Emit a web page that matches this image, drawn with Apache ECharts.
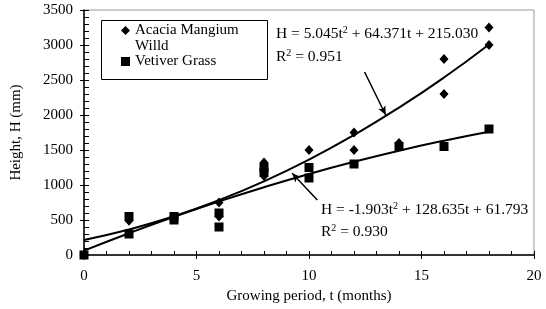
<!DOCTYPE html>
<html>
<head>
<meta charset="utf-8">
<script src="https://cdn.jsdelivr.net/npm/echarts@6/dist/echarts.min.js"></script>
<style>
  html, body { margin: 0; padding: 0; background: #fff; }
  #chart { width: 546px; height: 309px; }
</style>
</head>
<body>
<div id="chart"></div>
<script>
// measured points [t (months), H (mm)]
const acaciaPoints = [[0, 0], [2, 490], [4, 530], [6, 750], [6, 550], [8, 1320], [8, 1130],
  [10, 1500], [12, 1750], [12, 1500], [14, 1600], [16, 2800], [16, 2300], [18, 3250], [18, 3000]];
const vetiverPoints = [[0, 0], [2, 550], [2, 300], [4, 550], [4, 500], [6, 600], [6, 400],
  [8, 1250], [8, 1180], [10, 1250], [10, 1100], [12, 1300], [14, 1550], [16, 1550], [18, 1800]];

// trend curves
const trendT = [0, 2, 4, 6, 8, 10, 12, 14, 16, 18];
const acaciaTrend = [215, 364, 553, 783, 1053, 1363, 1714, 2105, 2536, 3008];
const vetiverTrend = [62, 311, 546, 765, 969, 1158, 1331, 1490, 1633, 1761];

// arrows [from, to] in data coords
const arrowLines = [
  [[12.47, 2614], [13.41, 2000]],
  [[10.37, 786], [9.25, 1167]]
];

const serif = "Liberation Serif";
const black = "#000";

const chart = echarts.init(document.getElementById("chart"));

const pair = (xs, ys) => xs.map((x, i) => [x, ys[i]]);

const eqText = (left, top, parts) => ({
  type: "text",
  left: left,
  top: top,
  style: {
    text: parts,
    rich: {
      b: { fontFamily: serif, fontSize: 15.5, lineHeight: 17, fill: black, verticalAlign: "bottom" },
      s: { fontFamily: serif, fontSize: 10, lineHeight: 17, fill: black, verticalAlign: "top" }
    }
  }
});

const option = {
  animation: false,
  backgroundColor: "#fff",
  grid: { left: 84, right: 12, top: 10, bottom: 54, show: true, borderColor: "#999", borderWidth: 1 },
  legend: {
    orient: "vertical",
    left: 121,
    top: 6.5,
    padding: 0,
    itemGap: -1,
    itemWidth: 9,
    itemHeight: 9,
    selectedMode: false,
    textStyle: { fontFamily: serif, fontSize: 15, color: black, lineHeight: 16 },
    // blank first line so the icon sits level with "Acacia Mangium"
    formatter: name => name.indexOf("\n") > 0 ? "\n" + name : name,
    data: ["Acacia Mangium\nWilld", "Vetiver Grass"]
  },
  xAxis: [{
    type: "value", min: 0, max: 20, interval: 5,
    name: "Growing period, t (months)", nameLocation: "middle", nameGap: 32,
    nameTextStyle: { fontFamily: serif, fontSize: 15, color: black },
    axisLine: { lineStyle: { color: black, width: 1.5 } },
    axisTick: { inside: true, length: 4, lineStyle: { color: black } },
    minorTick: { show: true, splitNumber: 5, length: 4, lineStyle: { color: black } },
    axisLabel: { fontFamily: serif, fontSize: 15, color: black, margin: 14 },
    splitLine: { show: false }
  }, {
    type: "value", min: 0, max: 20, interval: 5, position: "bottom",
    axisLine: { show: false },
    axisTick: { inside: false, length: 4, lineStyle: { color: black } },
    axisLabel: { show: false },
    splitLine: { show: false }
  }],
  yAxis: [{
    type: "value", min: 0, max: 3500, interval: 500,
    name: "Height, H (mm)", nameLocation: "middle", nameGap: 60,
    nameTextStyle: { fontFamily: serif, fontSize: 15, color: black },
    axisLine: { show: true, lineStyle: { color: black, width: 1.5 } },
    axisTick: { show: true, inside: true, length: 5, lineStyle: { color: black } },
    minorTick: { show: true, splitNumber: 5, length: 5, lineStyle: { color: black } },
    axisLabel: { fontFamily: serif, fontSize: 15, color: black, margin: 11, formatter: v => String(v) },
    splitLine: { show: false }
  }, {
    type: "value", min: 0, max: 3500, interval: 500, position: "left",
    axisLine: { show: false },
    axisTick: { show: true, inside: false, length: 4, lineStyle: { color: black } },
    axisLabel: { show: false },
    splitLine: { show: false }
  }],
  series: [
    {
      name: "acacia trend", type: "line", smooth: true, showSymbol: false, silent: true,
      data: pair(trendT, acaciaTrend),
      lineStyle: { color: black, width: 2 },
      markLine: {
        silent: true, symbol: ["none", "arrow"], symbolSize: [6, 9],
        label: { show: false },
        lineStyle: { color: black, width: 1.5, type: "solid" },
        data: arrowLines.map(a => [{ coord: a[0] }, { coord: a[1] }])
      }
    },
    {
      name: "vetiver trend", type: "line", smooth: true, showSymbol: false, silent: true,
      data: pair(trendT, vetiverTrend),
      lineStyle: { color: black, width: 2 }
    },
    {
      name: "Acacia Mangium\nWilld", type: "scatter", symbol: "diamond", symbolSize: [9, 10],
      itemStyle: { color: black, opacity: 1 }, data: acaciaPoints
    },
    {
      name: "Vetiver Grass", type: "scatter", symbol: "rect", symbolSize: 9,
      itemStyle: { color: black, opacity: 1 }, data: vetiverPoints
    }
  ],
  graphic: [
    { type: "rect", left: 99, top: 18, shape: { width: 166, height: 59 },
      style: { fill: "none", stroke: black, lineWidth: 1 }, z: 1 },
    eqText(276, 25, "{b|H = 5.045t}{s|2}{b| + 64.371t + 215.030}"),
    eqText(276, 48, "{b|R}{s|2}{b| = 0.951}"),
    eqText(321, 201, "{b|H = -1.903t}{s|2}{b| + 128.635t + 61.793}"),
    eqText(321, 223, "{b|R}{s|2}{b| = 0.930}")
  ]
};

chart.setOption(option);
</script>
</body>
</html>
